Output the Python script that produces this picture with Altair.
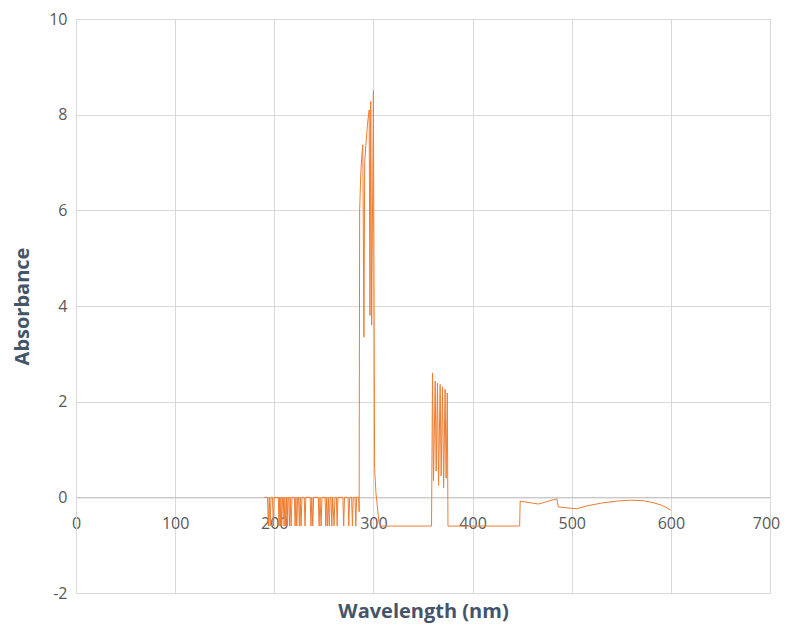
import altair as alt
import pandas as pd

# --- data (wavelength nm, absorbance) ---
# noisy baseline region with downward spikes (190-285 nm)
spike_points = [
    (190, 0), (193.2, 0), (194, -0.6), (194.9, 0), (195.8, -0.6), (196.7, 0),
    (198.2, 0), (199, -0.6), (199.8, 0),
    (204, 0), (204.8, -0.6), (205.4, 0), (206, -0.6), (206.7, 0), (207.5, -0.6), (208.4, 0),
    (209.1, 0), (209.9, -0.6), (210.7, 0), (211.6, -0.6), (212.3, 0), (213, -0.6), (213.7, 0),
    (214.5, 0), (215.3, -0.6), (216.1, 0), (217, -0.6), (217.9, 0),
    (220.2, 0), (221, -0.6), (221.8, 0), (222.7, -0.6), (223.6, 0),
    (224.5, 0), (225.3, -0.6), (226.1, 0), (227, -0.6), (227.9, 0),
    (230.2, 0), (231, -0.6), (231.8, 0),
    (236.2, 0), (237, -0.6), (237.9, 0), (238.8, -0.6), (239.7, 0),
    (244.4, 0), (245.2, -0.6), (246.1, 0), (247.2, -0.6), (248.1, 0),
    (251.2, 0), (252, -0.6), (252.8, 0), (253.7, -0.6), (254.5, 0), (255.5, -0.6), (256.3, 0),
    (257.2, 0), (258, -0.6), (258.9, 0), (260.3, -0.6), (261.2, 0),
    (262.6, 0), (263.4, -0.6), (264.2, 0),
    (269.2, 0), (270, -0.6), (270.8, 0),
    (274.4, 0), (275.2, -0.6), (276, 0),
    (278, 0), (278.8, -0.6), (279.6, 0),
    (281.4, 0), (282.2, -0.6), (283, 0),
    (285.2, 0),
]

# main absorption band (285-307 nm)
band1_points = [
    (285.6, -0.3), (286.1, 6.0), (287.3, 6.8), (288.5, 7.2), (289.3, 7.37),
    (290.4, 3.35), (291.2, 7.0), (292.5, 7.4), (294, 7.8), (295.7, 8.1),
    (296.5, 3.8), (297.3, 8.28), (298.2, 3.6), (300, 8.5),
    (301.2, 0.6), (302.5, 0.1), (304, -0.2), (305.5, -0.5), (307, -0.6),
]

# second band (358-375 nm)
band2_points = [
    (358.6, -0.6), (359.6, 2.6), (360.6, 0.35), (362.3, 2.43), (363.3, 0.55),
    (364.6, 2.39), (365.7, 0.25), (367.3, 2.36), (368.3, 0.45), (369.7, 2.31),
    (370.8, 0.2), (372.3, 2.26), (373.3, 0.4), (374.5, 2.18), (375.2, -0.6),
]

# visible tail (375-600 nm)
tail_points = [
    (447.5, -0.6), (448, -0.08), (466.5, -0.14), (485, -0.03), (486.5, -0.2),
    (505, -0.24), (515, -0.18), (530, -0.12), (545, -0.08), (560, -0.06),
    (572, -0.07), (582, -0.11), (590, -0.16), (596, -0.22), (600, -0.27),
]

x_ticks = [0, 100, 200, 300, 400, 500, 600, 700]
y_ticks = [-2, 0, 2, 4, 6, 8, 10]

points = spike_points + band1_points + band2_points + tail_points
df = pd.DataFrame(points, columns=["wl", "abs"])
df["i"] = range(len(df))

W, H = 694, 574
ymin, ymax = -2, 10
zero_offset = -H * (0 - ymin) / (ymax - ymin)

FONT = "Open Sans"
LABEL = "#595959"
TITLE = "#44546A"
GRID = "#d9d9d9"

chart = alt.Chart(df).mark_line(color="#ED7D31", strokeWidth=1).encode(
    x=alt.X(
        "wl:Q",
        scale=alt.Scale(domain=[0, 700], nice=False, zero=False),
        axis=alt.Axis(
            values=x_ticks,
            title="Wavelength (nm)",
            offset=zero_offset,
            ticks=False,
            domainColor="#bfbfbf",
            domainWidth=1,
            grid=True,
            gridColor=GRID,
            labelFont=FONT,
            labelFontSize=16,
            labelColor=LABEL,
            labelPadding=18,
            labelFlush=False,
            labelOffset={"expr": "datum.value == 700 ? -4 : 0"},
            labelExpr="'' + datum.value",
            titleFont=FONT,
            titleFontSize=20,
            titleFontWeight="bold",
            titleColor=TITLE,
            titleY=114,
            titleBaseline="middle",
        ),
    ),
    y=alt.Y(
        "abs:Q",
        scale=alt.Scale(domain=[ymin, ymax], nice=False, zero=False),
        axis=alt.Axis(
            values=y_ticks,
            title="Absorbance",
            ticks=False,
            domainColor=GRID,
            grid=True,
            gridColor=GRID,
            labelFont=FONT,
            labelFontSize=16,
            labelColor=LABEL,
            labelPadding=9,
            labelFlush=False,
            labelExpr="'' + datum.value",
            titleFont=FONT,
            titleFontSize=20,
            titleFontWeight="bold",
            titleColor=TITLE,
            titleX=-54,
            titleY=H / 2,
            titleBaseline="middle",
        ),
    ),
    order="i:Q",
).properties(
    width=W,
    height=H,
    autosize=alt.AutoSizeParams(type="none"),
    padding={"left": 68, "top": 11, "right": 11, "bottom": 30},
    background="white",
).configure_view(stroke=None)

chart.save("out.html", embed_options={"renderer": "svg", "actions": False})
